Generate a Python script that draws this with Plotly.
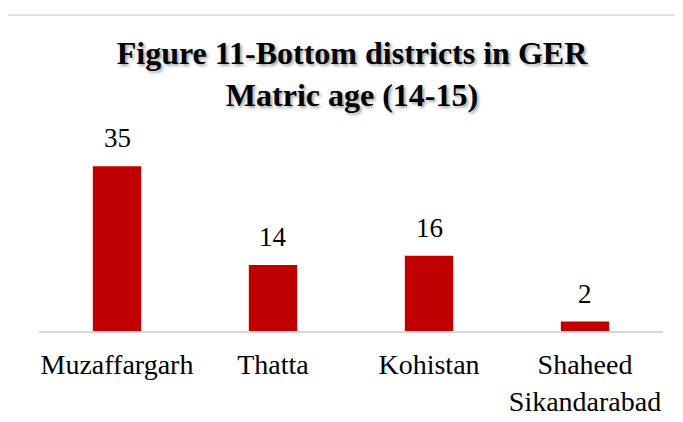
import plotly.graph_objects as go

categories = ["Muzaffargarh", "Thatta", "Kohistan", "Shaheed<br>Sikandarabad"]
values = [35, 14, 16, 2]
title_text = "Figure 11-Bottom districts in GER<br>Matric age (14-15)"

SERIF = "Liberation Serif, Times New Roman, serif"

fig = go.Figure()
fig.add_trace(go.Bar(
    x=categories, y=values,
    marker=dict(color="#C00000", line=dict(width=0)),
    width=0.31,
    hoverinfo="skip",
))

for c, v in zip(categories, values):
    fig.add_annotation(
        x=c, y=v, text=str(v), showarrow=False,
        yanchor="bottom", yshift=11,
        font=dict(family=SERIF, size=27, color="#000000"),
    )

# chart border (light gray frame)
fig.add_shape(type="rect", xref="paper", yref="paper",
              x0=-0.0513, x1=1.2, y0=-1.0, y1=1.765,
              line=dict(color="#d9d9d9", width=1.5), fillcolor="rgba(0,0,0,0)",
              layer="below")

fig.update_layout(
    width=683, height=422,
    margin=dict(l=31, r=28, t=144, b=99),
    paper_bgcolor="white", plot_bgcolor="white",
    showlegend=False,
    title=dict(
        text=title_text, x=344 / 683, xanchor="center",
        y=1 - 56 / 422, yanchor="top", yref="container",
        font=dict(family=SERIF, size=32, color="#000000", weight="bold",
                  shadow="2px 2px 3px rgba(0,0,0,0.35)"),
    ),
    xaxis=dict(
        showgrid=False, showline=True, linecolor="#d9d9d9", linewidth=1.5,
        ticks="", tickfont=dict(family=SERIF, size=28, color="#000000"),
        ticklabelstandoff=8,
        fixedrange=True,
    ),
    yaxis=dict(
        range=[0, 38], showgrid=False, showticklabels=False, zeroline=False,
        showline=False, fixedrange=True,
    ),
)

fig.write_html("out.html")
